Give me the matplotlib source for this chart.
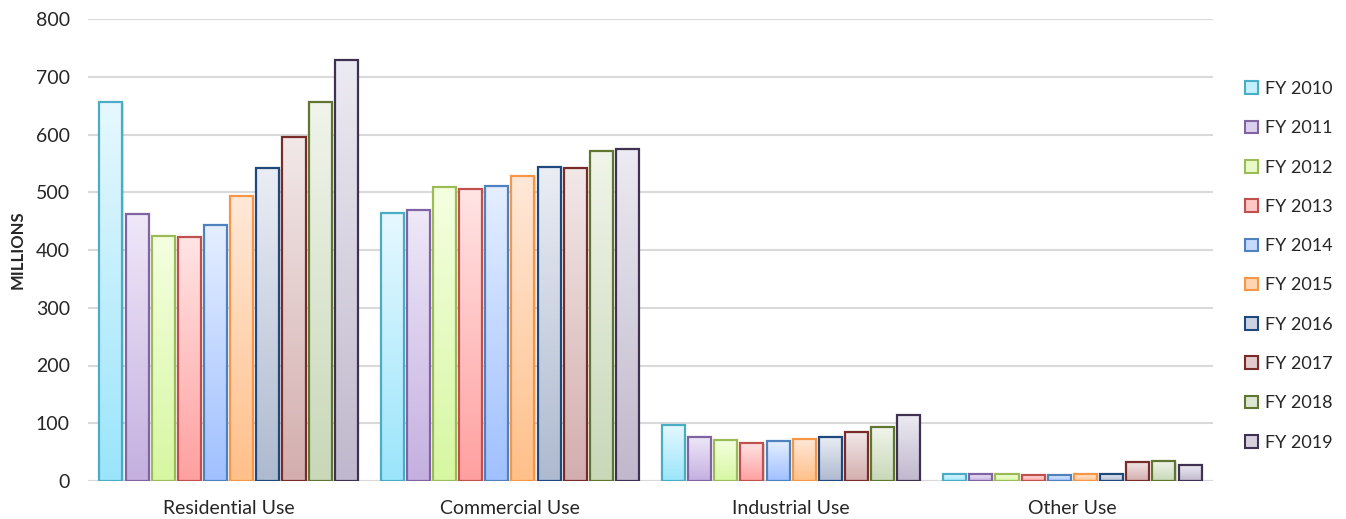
import matplotlib
matplotlib.use("Agg")
import matplotlib.pyplot as plt
import numpy as np
from matplotlib.patches import Rectangle, Patch
from matplotlib.colors import to_rgb

categories = ["Residential Use", "Commercial Use", "Industrial Use", "Other Use"]
years = ["FY 2010", "FY 2011", "FY 2012", "FY 2013", "FY 2014",
         "FY 2015", "FY 2016", "FY 2017", "FY 2018", "FY 2019"]
values = {
    "FY 2010": [656, 464, 97, 12],
    "FY 2011": [462, 469, 77, 12],
    "FY 2012": [424, 509, 71, 12],
    "FY 2013": [422, 505, 66, 10],
    "FY 2014": [443, 511, 69, 10],
    "FY 2015": [493, 528, 73, 12],
    "FY 2016": [542, 544, 77, 12],
    "FY 2017": [596, 542, 85, 33],
    "FY 2018": [656, 571, 93, 35],
    "FY 2019": [729, 575, 114, 27],
}
yticks = [0, 100, 200, 300, 400, 500, 600, 700, 800]

edge_colors = ["#4bacc6", "#8064a2", "#9bbb59", "#c0504d", "#4f81bd",
               "#f79646", "#1f497d", "#772c2a", "#5f7530", "#3f3151"]
top_colors = ["#e6f8ff", "#eee8f8", "#f4ffe0", "#ffe4e4", "#e4eeff",
              "#ffe8d8", "#eaedf4", "#f2e8e8", "#f0f4ea", "#eceaf2"]
bot_colors = ["#9be5fb", "#c5b0e0", "#d7f7a2", "#ffa0a0", "#a0c0ff",
              "#ffc08a", "#aebad0", "#d4aeae", "#c8d8b8", "#c0b8cc"]
leg_colors = ["#c4f0fd", "#dccfee", "#e8fbc6", "#ffc6c6", "#c6d9ff",
              "#ffd4b2", "#cbd3e2", "#e3cbcb", "#dce6d2", "#d6d0de"]

plt.rcParams['font.family'] = ['Lato', 'DejaVu Sans']

fig = plt.figure(figsize=(13.46, 5.19), dpi=100)
ax = fig.add_axes([88/1346, 1-481/519, (1213-88)/1346, (481-19)/519])

n = len(years)
slot = 0.093
bw = 0.082
x = np.arange(len(categories))

for j, yr in enumerate(years):
    top = np.array(to_rgb(top_colors[j]))
    bot = np.array(to_rgb(bot_colors[j]))
    grad = np.linspace(0, 1, 64)[:, None]
    img = (top[None, :] * (1 - grad) + bot[None, :] * grad)[:, None, :]
    for i, v in enumerate(values[yr]):
        x0 = x[i] - n * slot / 2 + j * slot + (slot - bw) / 2
        ax.add_patch(Rectangle((x0 + 0.004, 0), bw, v - 2, facecolor="#000000",
                               alpha=0.12, edgecolor="none", zorder=2))
        ax.imshow(img, extent=(x0, x0 + bw, 0, v), aspect="auto",
                  interpolation="bilinear", zorder=3, origin="upper")
        ax.add_patch(Rectangle((x0, 0), bw, v, facecolor="none",
                               edgecolor=edge_colors[j], linewidth=1.6, zorder=4))

ax.set_xlim(-0.5, len(categories) - 0.5)
ax.set_ylim(0, 800)
ax.set_yticks(yticks)
ax.set_xticks(x)
ax.set_xticklabels(categories)
for s in ax.spines.values():
    s.set_visible(False)
ax.grid(axis="y", color="#d9d9d9", linewidth=1.5, zorder=0)
ax.set_axisbelow(True)
ax.axhline(0, color="#d9d9d9", linewidth=1.5, zorder=1)
ax.tick_params(axis="both", length=0, labelsize=14, labelcolor="#262626")
ax.tick_params(axis="y", pad=13)
ax.tick_params(axis="x", pad=14)
ax.set_ylabel("MILLIONS", fontsize=12, fontweight="bold", color="#262626")
ax.yaxis.set_label_coords(-0.055, 0.5)

handles = [Patch(facecolor=leg_colors[j], edgecolor=edge_colors[j], linewidth=1.5,
                 label=years[j]) for j in range(n)]
leg = fig.legend(handles=handles, loc="upper left", bbox_to_anchor=(1236/1346, 1-72/519),
                 frameon=False, fontsize=13, labelspacing=1.29, handlelength=0.7,
                 handleheight=0.7, handletextpad=0.4, borderpad=0)
for t in leg.get_texts():
    t.set_color("#262626")

fig.savefig("out.png", dpi=100)
